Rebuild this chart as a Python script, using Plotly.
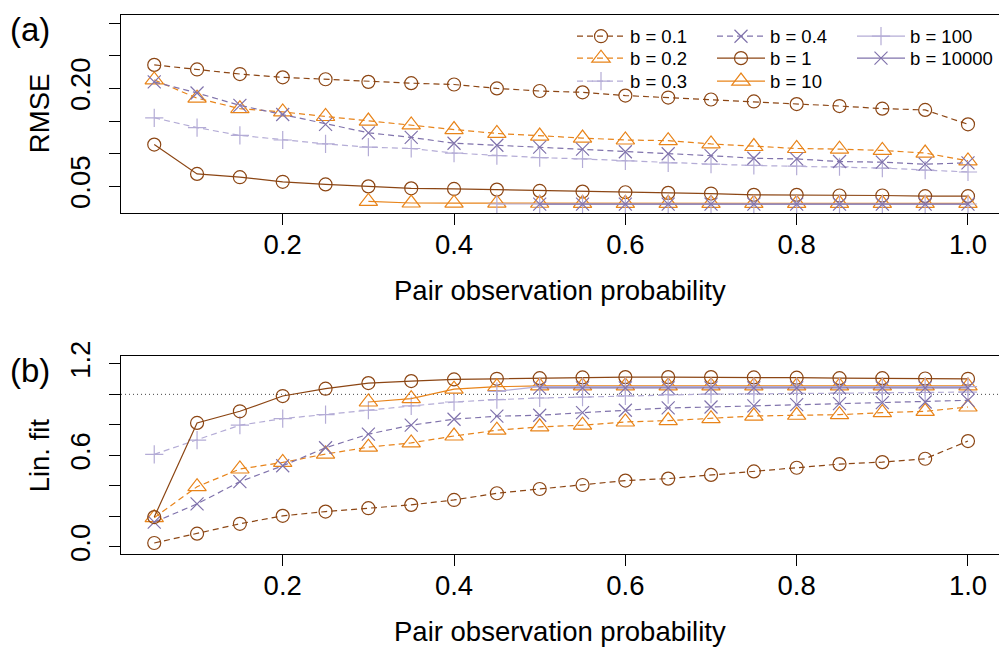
import plotly.graph_objects as go

# ---------------- data ----------------
prob = [0.05, 0.10, 0.15, 0.20, 0.25, 0.30, 0.35, 0.40, 0.45, 0.50,
        0.55, 0.60, 0.65, 0.70, 0.75, 0.80, 0.85, 0.90, 0.95, 1.00]

labels = ["b = 0.1", "b = 0.2", "b = 0.3", "b = 0.4", "b = 1", "b = 10", "b = 100", "b = 10000"]

rmse_b01 = [0.236, 0.229, 0.222, 0.217, 0.214, 0.210, 0.208, 0.206, 0.200, 0.196,
            0.194, 0.189, 0.186, 0.183, 0.180, 0.176, 0.173, 0.169, 0.167, 0.145]
rmse_b02 = [0.213, 0.185, 0.169, 0.164, 0.157, 0.150, 0.144, 0.137, 0.131, 0.127,
            0.124, 0.121, 0.120, 0.115, 0.111, 0.108, 0.107, 0.105, 0.101, 0.089]
rmse_b03 = [0.155, 0.140, 0.128, 0.121, 0.115, 0.110, 0.108, 0.101, 0.097, 0.094,
            0.092, 0.089, 0.086, 0.084, 0.082, 0.081, 0.080, 0.078, 0.075, 0.072]
rmse_b04 = [0.210, 0.193, 0.174, 0.160, 0.145, 0.132, 0.125, 0.116, 0.113, 0.110,
            0.107, 0.103, 0.100, 0.097, 0.093, 0.092, 0.088, 0.087, 0.084, 0.086]
rmse_b1 = [0.114, 0.069, 0.064, 0.057, 0.053, 0.050, 0.047, 0.046, 0.045, 0.043,
           0.042, 0.041, 0.040, 0.039, 0.037, 0.037, 0.036, 0.036, 0.035, 0.035]
rmse_b10 = [None, None, None, None, None, 0.027, 0.0245, 0.0243, 0.0242, 0.0241,
            0.024, 0.024, 0.024, 0.024, 0.024, 0.024, 0.024, 0.024, 0.024, 0.024]
rmse_b100 = [None, None, None, None, None, None, None, None, 0.023, 0.023,
             0.023, 0.023, 0.023, 0.023, 0.023, 0.023, 0.023, 0.023, 0.023, 0.023]
rmse_b10000 = [None, None, None, None, None, None, None, None, None, 0.0228,
               0.0228, 0.0228, 0.0228, 0.0228, 0.0228, 0.0228, 0.0228, 0.0228, 0.0228, 0.0228]

fit_b01 = [0.026, 0.087, 0.152, 0.204, 0.232, 0.254, 0.276, 0.308, 0.352, 0.380,
           0.406, 0.435, 0.448, 0.472, 0.495, 0.519, 0.543, 0.556, 0.578, 0.694]
fit_b02 = [0.192, 0.395, 0.511, 0.554, 0.609, 0.654, 0.682, 0.727, 0.765, 0.787,
           0.798, 0.819, 0.828, 0.841, 0.858, 0.863, 0.867, 0.880, 0.889, 0.917]
fit_b03 = [0.607, 0.700, 0.798, 0.841, 0.867, 0.896, 0.924, 0.950, 0.965, 0.976,
           0.982, 0.990, 0.998, 1.002, 1.003, 1.006, 1.008, 1.010, 1.012, 1.015]
fit_b04 = [0.163, 0.282, 0.428, 0.532, 0.650, 0.739, 0.798, 0.837, 0.857, 0.863,
           0.880, 0.896, 0.911, 0.917, 0.924, 0.933, 0.939, 0.946, 0.950, 0.961]
fit_b1 = [0.196, 0.813, 0.889, 0.989, 1.037, 1.074, 1.087, 1.098, 1.102, 1.106,
          1.111, 1.113, 1.113, 1.113, 1.111, 1.109, 1.106, 1.106, 1.104, 1.102]
fit_b10 = [None, None, None, None, None, 0.950, 0.972, 1.034, 1.050, 1.055,
           1.055, 1.055, 1.055, 1.055, 1.055, 1.055, 1.055, 1.055, 1.055, 1.055]
fit_b100 = [None, None, None, None, None, None, None, None, 1.020, 1.050,
            1.050, 1.050, 1.050, 1.050, 1.050, 1.050, 1.050, 1.050, 1.050, 1.050]
fit_b10000 = [None, None, None, None, None, None, None, None, None, 1.042,
              1.042, 1.042, 1.042, 1.042, 1.042, 1.042, 1.042, 1.042, 1.042, 1.042]

x_ticks = [0.2, 0.4, 0.6, 0.8, 1.0]
x_ticktext = ["0.2", "0.4", "0.6", "0.8", "1.0"]
rmse_ticks = [0.05, 0.10, 0.15, 0.20, 0.25, 0.30]
rmse_ticktext = ["0.05", "", "", "0.20", "", ""]
fit_ticks = [0.0, 0.2, 0.4, 0.6, 0.8, 1.0, 1.2]
fit_ticktext = ["0.0", "", "", "0.6", "", "", "1.2"]

# ---------------- styles ----------------
BROWN = "#8C4614"
ORANGE = "#E8841A"
LPURPLE = "#B4ACD6"
PURPLE = "#8073AC"
DASH = "6px,4px"

styles = [
    dict(color=BROWN, dash=DASH, symbol="circle-open", size=13),
    dict(color=ORANGE, dash=DASH, symbol="triangle-up-open", size=16),
    dict(color=LPURPLE, dash=DASH, symbol="cross-thin-open", size=13),
    dict(color=PURPLE, dash=DASH, symbol="x-thin-open", size=13),
    dict(color=BROWN, dash="solid", symbol="circle-open", size=13),
    dict(color=ORANGE, dash="solid", symbol="triangle-up-open", size=16),
    dict(color=LPURPLE, dash="solid", symbol="cross-thin-open", size=13),
    dict(color=PURPLE, dash="solid", symbol="x-thin-open", size=13),
]
# legend grid: (column, row), column-major like the reference
leg_cells = [(0, 0), (0, 1), (0, 2), (1, 0), (1, 1), (1, 2), (2, 0), (2, 1)]

rmse_series = [rmse_b01, rmse_b02, rmse_b03, rmse_b04, rmse_b1, rmse_b10, rmse_b100, rmse_b10000]
fit_series = [fit_b01, fit_b02, fit_b03, fit_b04, fit_b1, fit_b10, fit_b100, fit_b10000]

def legname(i):
    return "legend" if i == 0 else "legend%d" % (i + 1)

fig = go.Figure()
for i, (lab, st) in enumerate(zip(labels, styles)):
    for panel, series in ((1, rmse_series), (2, fit_series)):
        fig.add_trace(go.Scatter(
            x=prob, y=series[i], name=lab, mode="lines+markers",
            xaxis="x" if panel == 1 else "x2",
            yaxis="y" if panel == 1 else "y2",
            line=dict(color=st["color"], width=1.2, dash=st["dash"]),
            marker=dict(symbol=st["symbol"], size=st["size"], color=st["color"],
                        line=dict(color=st["color"], width=1.2)),
            showlegend=(panel == 1), legend=legname(i), connectgaps=False,
        ))

FONT = "Liberation Sans, Arial, Helvetica, sans-serif"
TFS = 27.5
axis_common = dict(showline=True, linecolor="black", linewidth=1, ticks="outside",
                   ticklen=11, tickwidth=1, tickcolor="black", showgrid=False,
                   zeroline=False, tickfont=dict(family=FONT, size=TFS, color="black"))

PT, PB = 13, 554
H = 651
ph = PB - PT
dom_a = [(PB - 212) / ph, 1.0]
dom_b = [0.0, (PB - 355) / ph]

xr = [0.0112, 1.0362]

def py(ypx):
    return (PB - ypx) / ph

def px(xpx):
    return (xpx - 121) / 878

layout_legends = {}
col_x = [572, 712, 852]
row_c = [36.7, 58.7, 81.7]
for i, (c, r) in enumerate(leg_cells):
    layout_legends[legname(i)] = dict(
        x=px(col_x[c]), y=py(row_c[r] - 21), xanchor="left", yanchor="top",
        bgcolor="rgba(0,0,0,0)", font=dict(family=FONT, size=18.5, color="black"),
        itemwidth=48)

fig.update_layout(
    width=999, height=651,
    margin=dict(l=121, r=0, t=PT, b=H - PB),
    paper_bgcolor="white", plot_bgcolor="white",
    font=dict(family=FONT, color="black"),
    xaxis=dict(domain=[0, 1], range=xr, tickvals=x_ticks, ticktext=x_ticktext,
               anchor="y", mirror=True, ticklabelstandoff=-4, **axis_common),
    yaxis=dict(domain=dom_a, range=[0.0088, 0.3124], tickvals=rmse_ticks,
               ticktext=rmse_ticktext, tickangle=-90, anchor="x", ticklabelstandoff=8,
               **axis_common),
    xaxis2=dict(domain=[0, 1], range=xr, tickvals=x_ticks, ticktext=x_ticktext,
                anchor="y2", mirror=True, ticklabelstandoff=-4, **axis_common),
    yaxis2=dict(domain=dom_b, range=[-0.046, 1.253], tickvals=fit_ticks,
                ticktext=fit_ticktext, tickangle=-90, anchor="x2", ticklabelstandoff=8,
                **axis_common),
    shapes=[dict(type="line", xref="x2 domain", yref="y2", x0=0, x1=1, y0=1.0, y1=1.0,
                 line=dict(color="#444444", width=1, dash="1px,3px"), layer="below")],
    **layout_legends,
)

ann = [
    dict(text="Pair observation probability", x=0.5, y=py(290), size=TFS, angle=0),
    dict(text="Pair observation probability", x=0.5, y=py(632), size=TFS, angle=0),
    dict(text="RMSE", x=px(39), y=py(112.5), size=TFS, angle=-90),
    dict(text="Lin. fit", x=px(39), y=py(455), size=TFS, angle=-90),
    dict(text="(a)", x=px(30), y=py(28), size=33, angle=0),
    dict(text="(b)", x=px(30), y=py(370), size=33, angle=0),
]
for a in ann:
    fig.add_annotation(text=a["text"], x=a["x"], y=a["y"], xref="paper", yref="paper",
                       xanchor="center", yanchor="middle", showarrow=False,
                       textangle=a["angle"], font=dict(family=FONT, size=a["size"], color="black"))

fig.write_html("out.html", config={"displayModeBar": False},
               post_script="document.body.style.margin='0px';")
